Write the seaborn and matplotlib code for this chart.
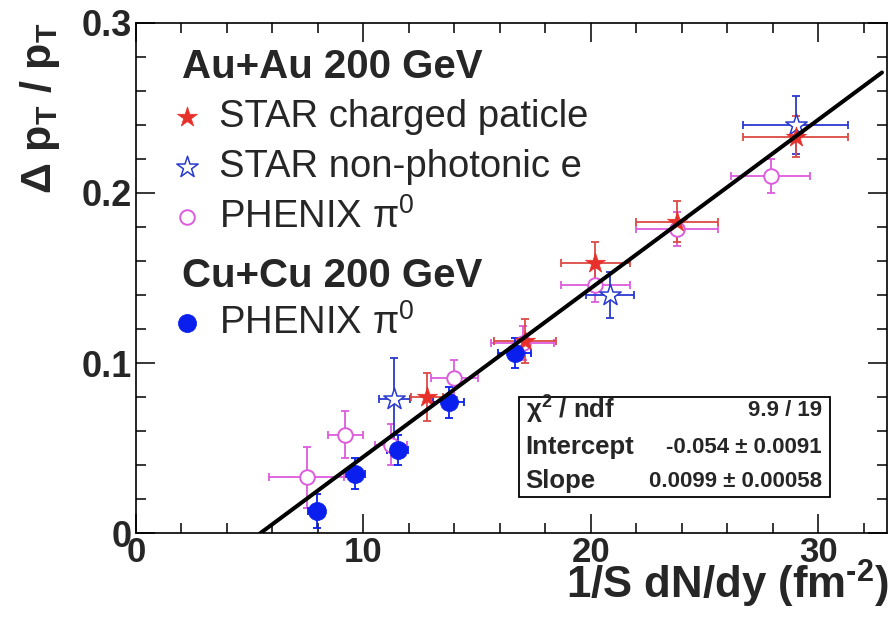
import numpy as np
import pandas as pd
import matplotlib
matplotlib.use("Agg")
import matplotlib.pyplot as plt
import seaborn as sns
from matplotlib.ticker import MultipleLocator, FixedLocator
from matplotlib.patches import Rectangle

# ---------------- data ----------------
# Au+Au 200 GeV, STAR charged particle
star_ch_x = [12.8, 17.1, 20.2, 23.8, 29.0]
star_ch_y = [0.080, 0.113, 0.159, 0.183, 0.233]
star_ch_xerr = [0.70, 1.35, 1.50, 1.80, 2.30]
star_ch_yerr = [0.014, 0.013, 0.012, 0.012, 0.012]

# Au+Au 200 GeV, STAR non-photonic e
star_e_x = [11.35, 20.85, 29.0]
star_e_y = [0.079, 0.140, 0.240]
star_e_xerr = [0.68, 1.05, 2.30]
star_e_yerr = [0.024, 0.0135, 0.017]

# Au+Au 200 GeV, PHENIX pi0
phx_au_x = [7.5, 9.2, 11.2, 14.0, 17.0, 20.2, 23.8, 27.9]
phx_au_y = [0.033, 0.058, 0.052, 0.091, 0.112, 0.146, 0.179, 0.210]
phx_au_xerr = [1.65, 0.77, 0.70, 1.05, 1.40, 1.50, 1.80, 1.72]
phx_au_yerr = [0.018, 0.014, 0.012, 0.011, 0.010, 0.010, 0.010, 0.010]

# Cu+Cu 200 GeV, PHENIX pi0
phx_cu_x = [7.95, 9.65, 11.5, 13.75, 16.65]
phx_cu_y = [0.013, 0.035, 0.049, 0.077, 0.106]
phx_cu_xerr = [0.37, 0.42, 0.45, 0.67, 0.73]
phx_cu_yerr = [0.010, 0.009, 0.009, 0.009, 0.009]

# linear fit parameters
fit_chi2 = "9.9 / 19"
fit_intercept = -0.054
fit_intercept_err = 0.0091
fit_slope = 0.0099
fit_slope_err = 0.00058
fit_x_max = 32.8

x_ticks = [0, 10, 20, 30]
x_ticklabels = ["0", "10", "20", "30"]
y_ticks = [0, 0.1, 0.2, 0.3]
y_ticklabels = ["0", "0.1", "0.2", "0.3"]

# ---------------- style ----------------
sns.set_theme(style="ticks")
plt.rcParams["font.family"] = ["Liberation Sans", "DejaVu Sans"]
plt.rcParams["mathtext.fontset"] = "custom"
plt.rcParams["mathtext.rm"] = "Liberation Sans"
plt.rcParams["mathtext.it"] = "Liberation Sans:italic"
plt.rcParams["mathtext.bf"] = "Liberation Sans:bold"

C_RED = "#e8302a"
C_RED_BAR = "#dc4a44"
C_BLUE_STAR = "#2a3acf"
C_MAG = "#dd5cdd"
C_BLUE = "#0a1fee"

fig = plt.figure(figsize=(8.91, 6.29), dpi=100)
ax = fig.add_axes([0.1526, 0.152, 0.8424, 0.812])

def err(x, y, xe, ye, col):
    ax.errorbar(x, y, xerr=xe, yerr=ye, fmt="none", ecolor=col,
                elinewidth=1.3, capsize=2.6, capthick=1.3, zorder=2)

err(phx_au_x, phx_au_y, phx_au_xerr, phx_au_yerr, C_MAG)
err(star_e_x, star_e_y, star_e_xerr, star_e_yerr, C_BLUE_STAR)
err(star_ch_x, star_ch_y, star_ch_xerr, star_ch_yerr, C_RED_BAR)
err(phx_cu_x, phx_cu_y, phx_cu_xerr, phx_cu_yerr, C_BLUE)

df_au = pd.DataFrame({"x": phx_au_x, "y": phx_au_y})
df_e = pd.DataFrame({"x": star_e_x, "y": star_e_y})
df_ch = pd.DataFrame({"x": star_ch_x, "y": star_ch_y})
df_cu = pd.DataFrame({"x": phx_cu_x, "y": phx_cu_y})

sns.scatterplot(data=df_au, x="x", y="y", ax=ax, marker="o", s=110,
                facecolor="white", edgecolor=C_MAG, linewidth=1.4, zorder=3)
sns.scatterplot(data=df_e, x="x", y="y", ax=ax, marker="*", s=260,
                facecolor="white", edgecolor=C_BLUE_STAR, linewidth=1.1, zorder=3)
sns.scatterplot(data=df_ch, x="x", y="y", ax=ax, marker="*", s=230,
                facecolor=C_RED, edgecolor=C_RED, linewidth=0.5, zorder=3)
sns.scatterplot(data=df_cu, x="x", y="y", ax=ax, marker="o", s=170,
                facecolor=C_BLUE, edgecolor=C_BLUE, linewidth=0.5, zorder=3)

# fit line
x0 = -fit_intercept / fit_slope
fit_df = pd.DataFrame({"x": [x0, fit_x_max]})
fit_df["y"] = fit_intercept + fit_slope * fit_df["x"]
sns.lineplot(data=fit_df, x="x", y="y", ax=ax, color="black", linewidth=2.9, zorder=4)

# axes
ax.set_xlim(0, 33.0)
ax.set_ylim(0, 0.3)
ax.xaxis.set_major_locator(FixedLocator(x_ticks))
ax.yaxis.set_major_locator(FixedLocator(y_ticks))
ax.set_xticklabels(x_ticklabels)
ax.set_yticklabels(y_ticklabels)
ax.xaxis.set_minor_locator(MultipleLocator(2))
ax.yaxis.set_minor_locator(MultipleLocator(0.02))
ax.tick_params(which="both", direction="in", top=True, right=True, width=1.1, color="black")
ax.tick_params(which="major", length=14)
ax.tick_params(which="minor", length=7)
ax.tick_params(axis="x", which="major", labelsize=25, pad=2)
ax.tick_params(axis="y", which="major", labelsize=26, pad=3)
for lab in ax.get_xticklabels() + ax.get_yticklabels():
    lab.set_fontweight("bold")
for sp in ax.spines.values():
    sp.set_linewidth(1.2)
    sp.set_color("black")

ax.set_xlabel(r"1/S dN/dy (fm$^{\mathbf{‐2}}$)", fontsize=31.5, fontweight="bold", loc="right")
ax.xaxis.label.set_va("baseline")
ax.xaxis.set_label_coords(1.003, -0.128)
ax.set_ylabel(r"Δ p$_{\mathbf{T}}$ / p$_{\mathbf{T}}$", fontsize=31, fontweight="bold", loc="top")
ax.yaxis.set_label_coords(-0.098, 1.0)

# legend (manual, ROOT style)
leg_mx, leg_tx, leg_hx = 0.0675, 0.111, 0.061
ax.text(leg_hx, 0.914, "Au+Au 200 GeV", transform=ax.transAxes, fontsize=29,
        fontweight="bold", va="center", ha="left")
ax.text(leg_hx, 0.503, "Cu+Cu 200 GeV", transform=ax.transAxes, fontsize=29,
        fontweight="bold", va="center", ha="left")
entries = [
    (0.815, "STAR charged paticle", dict(marker="*", s=230, facecolor=C_RED, edgecolor=C_RED, linewidth=0.5)),
    (0.718, "STAR non-photonic e", dict(marker="*", s=260, facecolor="white", edgecolor=C_BLUE_STAR, linewidth=1.1)),
    (0.619, r"PHENIX π$^{0}$", dict(marker="o", s=110, facecolor="white", edgecolor=C_MAG, linewidth=1.4)),
    (0.411, r"PHENIX π$^{0}$", dict(marker="o", s=170, facecolor=C_BLUE, edgecolor=C_BLUE, linewidth=0.5)),
]
for yy, label, mk in entries:
    ax.scatter([leg_mx], [yy], transform=ax.transAxes, clip_on=False, zorder=5, **mk)
    ax.text(leg_tx, yy, label, transform=ax.transAxes, fontsize=27.5, va="center", ha="left")

# fit statistics box
ax.add_patch(Rectangle((0.510, 0.071), 0.4145, 0.196, transform=ax.transAxes,
                       facecolor="white", edgecolor="black", linewidth=1.3, zorder=6))
rows = [
    (0.2415, r"χ$^{\mathbf{2}}$ / ndf", fit_chi2),
    (0.169, "Intercept", f"{fit_intercept:.3f} ± {fit_intercept_err:.4f}"),
    (0.102, "Slope", f"{fit_slope:.4f} ± {fit_slope_err:.5f}"),
]
for yy, lab, val in rows:
    ax.text(0.519, yy, lab, transform=ax.transAxes, fontsize=18.5, fontweight="bold",
            va="center", ha="left", zorder=7)
    ax.text(0.914, yy, val, transform=ax.transAxes, fontsize=16, fontweight="bold",
            va="center", ha="right", zorder=7)

fig.savefig("out.png", dpi=100, facecolor="white")
